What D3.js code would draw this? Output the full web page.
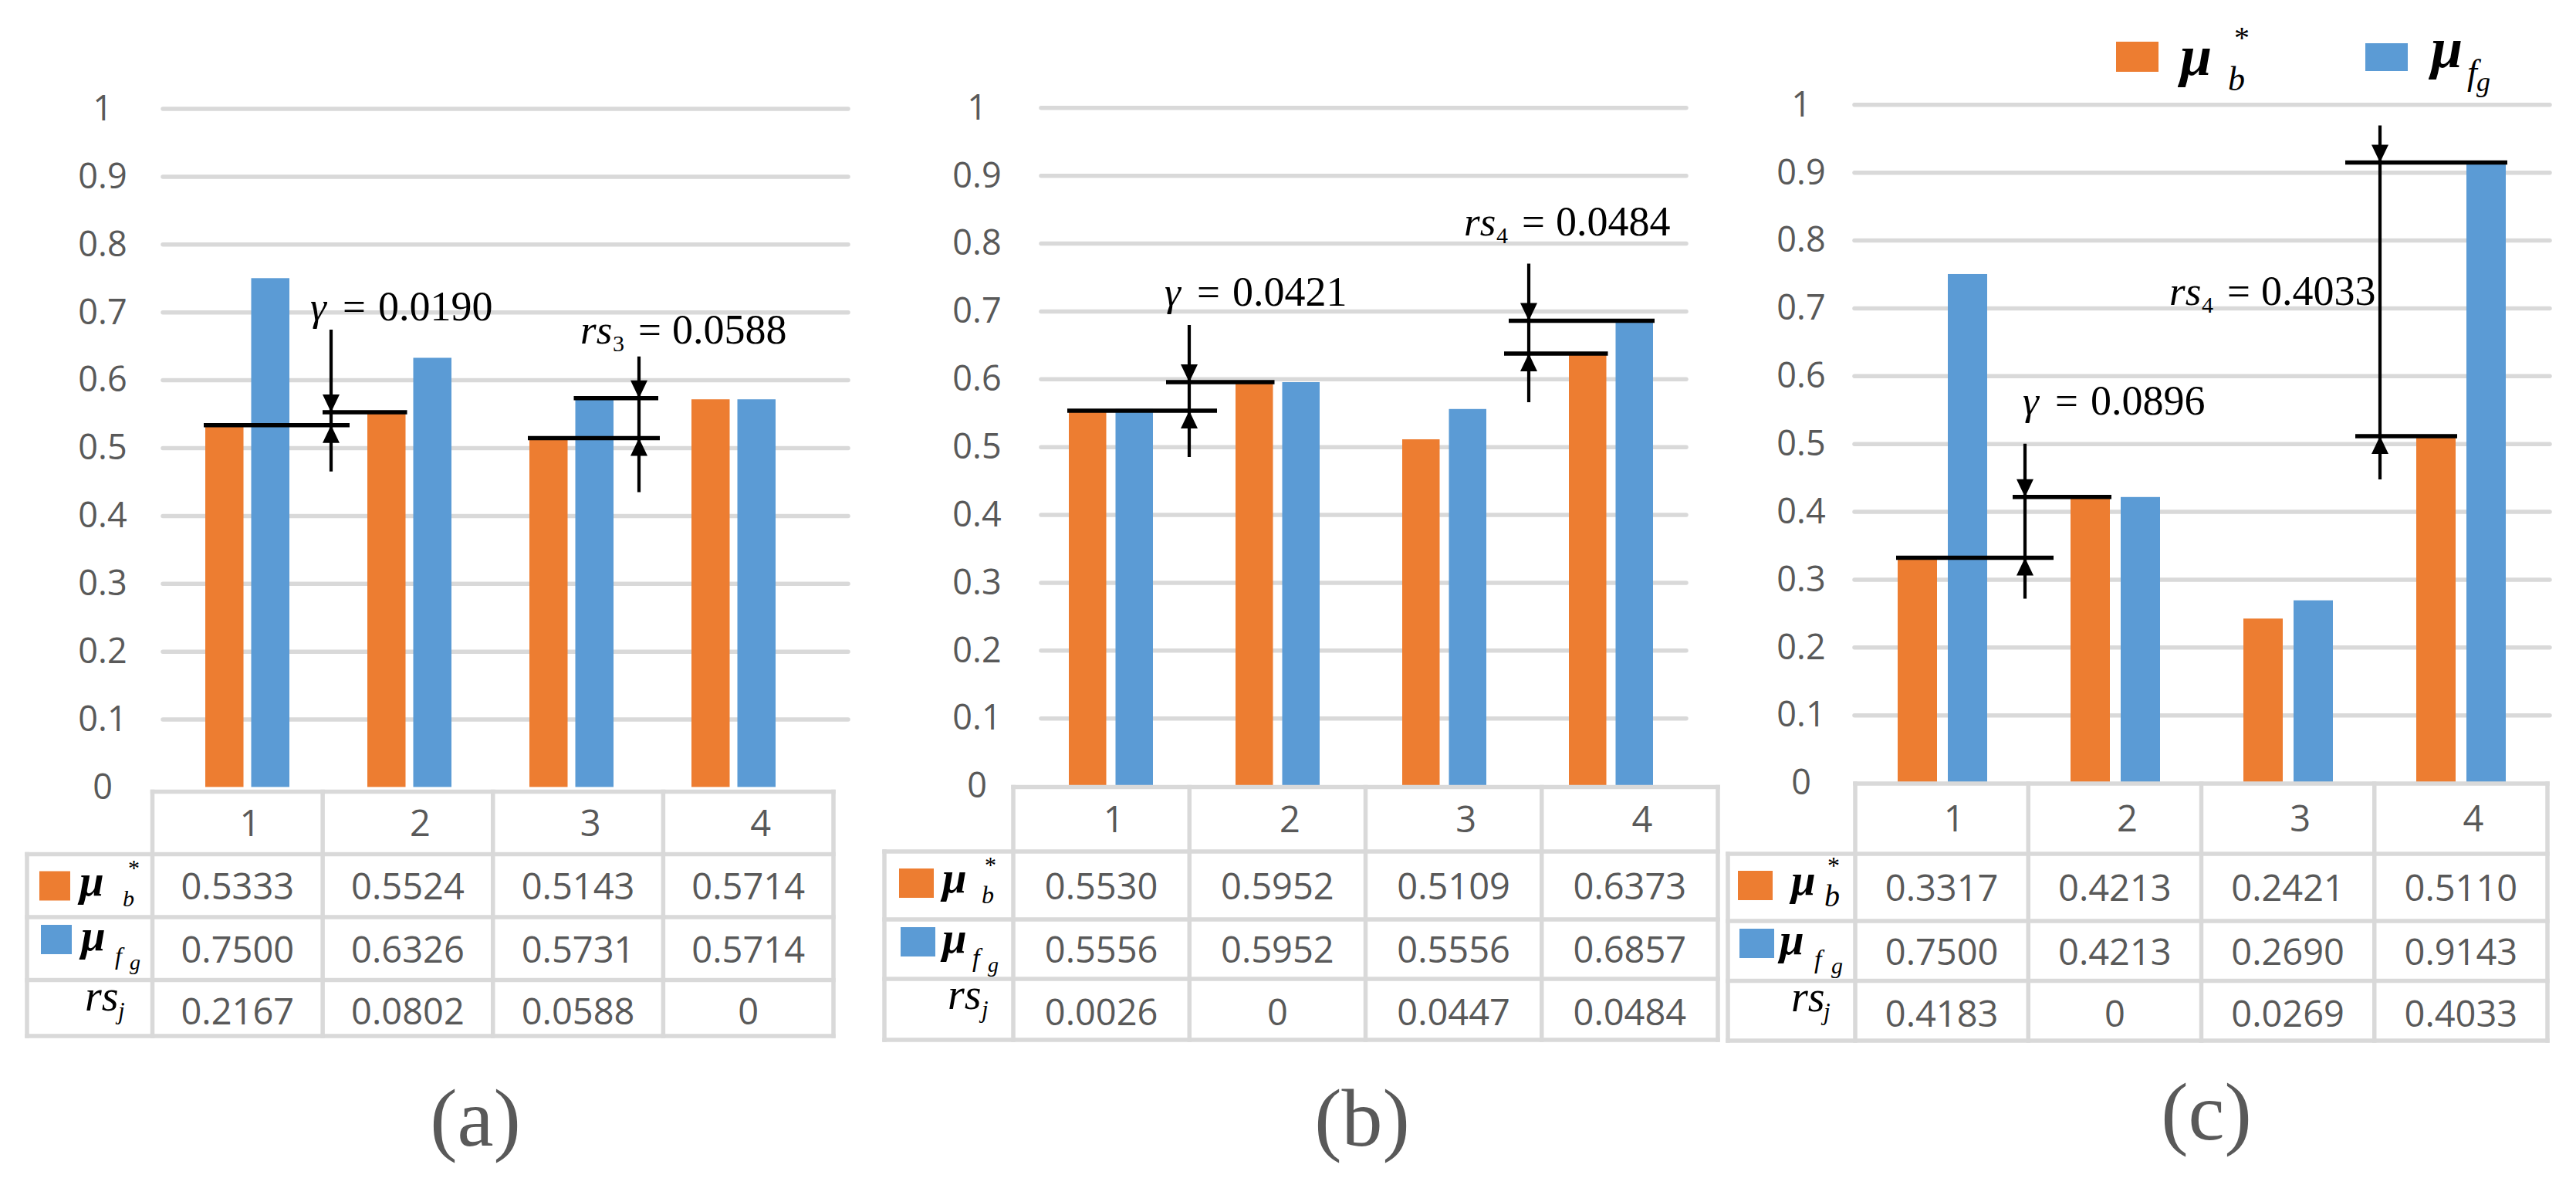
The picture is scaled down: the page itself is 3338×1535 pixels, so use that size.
<!DOCTYPE html>
<html>
<head>
<meta charset="utf-8">
<script src="https://cdn.jsdelivr.net/npm/d3@7"></script>
<style>
  html, body { margin: 0; padding: 0; background: #ffffff; }
  svg { display: block; }
</style>
</head>
<body>
<svg id="chart" width="3338" height="1535"></svg>
<script>
// ---------------- DATA ----------------
const categories = ['1', '2', '3', '4'];
const yTickValues = [0, 0.1, 0.2, 0.3, 0.4, 0.5, 0.6, 0.7, 0.8, 0.9, 1];

const muB_a  = [0.5333, 0.5524, 0.5143, 0.5714];
const muFg_a = [0.7500, 0.6326, 0.5731, 0.5714];
const rs_a   = [0.2167, 0.0802, 0.0588, 0];

const muB_b  = [0.5530, 0.5952, 0.5109, 0.6373];
const muFg_b = [0.5556, 0.5952, 0.5556, 0.6857];
const rs_b   = [0.0026, 0, 0.0447, 0.0484];

const muB_c  = [0.3317, 0.4213, 0.2421, 0.5110];
const muFg_c = [0.7500, 0.4213, 0.2690, 0.9143];
const rs_c   = [0.4183, 0, 0.0269, 0.4033];

const captions = ['(a)', '(b)', '(c)'];
const seriesKeys = ['muB', 'muFg'];

// annotation texts (panel, symbol, subscript, value, upper bar, lower bar)
const annoPanel  = [0, 0, 1, 1, 2, 2];
const annoSymbol = ['γ', 'rs', 'γ', 'rs', 'γ', 'rs'];
const annoSub    = ['', '3', '', '4', '', '4'];
const annoValue  = ['0.0190', '0.0588', '0.0421', '0.0484', '0.0896', '0.4033'];
const annoUpper  = [['muB', 1], ['muFg', 2], ['muB', 1], ['muFg', 3], ['muB', 1], ['muFg', 3]];
const annoLower  = [['muB', 0], ['muB', 2], ['muB', 0], ['muB', 3], ['muB', 0], ['muB', 3]];

// ---------------- STYLE / LAYOUT ----------------
const colors = { muB: '#ED7D31', muFg: '#5B9BD5' };
const GRID = '#D9D9D9';
const TXT = '#595959';
const SANS = '"Open Sans"';
const SERIF = '"Liberation Serif"';

const panelData = [
  { muB: muB_a, muFg: muFg_a, rs: rs_a },
  { muB: muB_b, muFg: muFg_b, rs: rs_b },
  { muB: muB_c, muFg: muFg_c, rs: rs_c }
];

const layouts = [
  { y0: 1019.4, y1: 140.6, gridX: [211, 1099], tickX: 133, firstBar: 266, period: 210, groupW: 109, barGap: 10,
    table: { left: 35, dataLeft: 197.5, right: 1080, rows: [1025.5, 1106.5, 1188, 1269.5, 1342] },
    capX: 616, capY: 1484 },
  { y0: 1018, y1: 139.3, gridX: [1349, 2185], tickX: 1266, firstBar: 1385, period: 216, groupW: 109, barGap: 12,
    table: { left: 1146, dataLeft: 1313, right: 2226, rows: [1019.5, 1103, 1191, 1268, 1347] },
    capX: 1765, capY: 1484 },
  { y0: 1014, y1: 135.3, gridX: [2403, 3304], tickX: 2334, firstBar: 2459, period: 224, groupW: 116, barGap: 14,
    table: { left: 2239, dataLeft: 2404, right: 3301, rows: [1015, 1106, 1193, 1270.5, 1348] },
    capX: 2859, capY: 1476 }
];

// row-label placement inside each table (offsets from table left / row top)
const rowLabelLayout = [
  { sqX: 16, sqW: 40, muBX: 68, muB: { mu: 57, bx: 56, by: 14, bs: 30, sx: 63, sy: -26, ss: 30 },
    muFgX: 70, muFg: { mu: 57, fx: 44, fy: 18, fs: 32, gx: 63, gy: 25, gs: 28 }, rsX: 75, jx: 43 },
  { sqX: 19, sqW: 45, muBX: 75, muB: { mu: 57, bx: 51, by: 14, bs: 32, sx: 55, sy: -26, ss: 30 },
    muFgX: 75, muFg: { mu: 57, fx: 39, fy: 18, fs: 34, gx: 59, gy: 25, gs: 28 }, rsX: 82, jx: 44 },
  { sqX: 13, sqW: 45, muBX: 82, muB: { mu: 57, bx: 43, by: 15, bs: 40, sx: 47, sy: -27, ss: 32 },
    muFgX: 67, muFg: { mu: 57, fx: 45, fy: 18, fs: 34, gx: 67, gy: 25, gs: 30 }, rsX: 82, jx: 42 }
];

const annoLayout = [
  { ref: 'right', cat: 0, dx: 54,  upExt: 11, loExt: 24, topLen: 107, botLen: 60, tdx: -27,  tdy: -12 },
  { ref: 'right', cat: 2, dx: 33,  upExt: 25, loExt: 27, topLen: 54,  botLen: 70, tdx: -76,  tdy: -17 },
  { ref: 'right', cat: 0, dx: 47,  upExt: 30, loExt: 36, topLen: 74,  botLen: 60, tdx: -32,  tdy: -25 },
  { ref: 'left',  cat: 3, dx: -52, upExt: 26, loExt: 32, topLen: 74,  botLen: 63, tdx: -84,  tdy: -36 },
  { ref: 'right', cat: 0, dx: 49,  upExt: 16, loExt: 37, topLen: 69,  botLen: 53, tdx: -3,   tdy: -38 },
  { ref: 'left',  cat: 3, dx: -47, upExt: 45, loExt: 32, topLen: 48,  botLen: 56, tdx: -273, tdy: 232 }
];

const fmtTick = d3.format('.1~f');
const fmtVal = v => (v === 0 ? '0' : v.toFixed(4));

const svg = d3.select('#chart');
svg.append('rect').attr('width', 3338).attr('height', 1535).attr('fill', '#fff');

// math label helpers
function piece(g, txt, x, y, size, opts = {}) {
  return g.append('text').attr('x', x).attr('y', y)
    .attr('font-family', SERIF)
    .attr('font-size', size)
    .attr('font-style', opts.italic === false ? 'normal' : 'italic')
    .attr('font-weight', opts.bold ? 'bold' : 'normal')
    .attr('fill', opts.fill || '#000').text(txt);
}
function muB(g, x, bl, P) {
  piece(g, 'μ', x, bl, P.mu, { bold: true });
  piece(g, 'b', x + P.bx, bl + P.by, P.bs);
  piece(g, '*', x + P.sx, bl + P.sy, P.ss, { italic: false });
}
function muFg(g, x, bl, P) {
  piece(g, 'μ', x, bl, P.mu, { bold: true });
  piece(g, 'f', x + P.fx, bl + P.fy, P.fs);
  piece(g, 'g', x + P.gx, bl + P.gy, P.gs);
}
function rsJ(g, x, bl, jx) {
  piece(g, 'rs', x, bl, 56);
  piece(g, 'j', x + jx, bl + 11, 31);
}

const ctx = [];

panelData.forEach((p, i) => {
  const L = layouts[i];
  const R = rowLabelLayout[i];
  const g = svg.append('g').attr('class', 'panel');

  const y = d3.scaleLinear().domain([0, 1]).range([L.y0, L.y1]);
  const pi = 1 - L.groupW / L.period;
  const r0 = L.firstBar - (pi / 2) * L.period;
  const x0 = d3.scaleBand().domain(categories)
    .range([r0, r0 + categories.length * L.period])
    .paddingInner(pi).paddingOuter(pi / 2);
  const x1 = d3.scaleBand().domain(seriesKeys)
    .range([0, x0.bandwidth()])
    .paddingInner(2 * L.barGap / (L.groupW + L.barGap));
  ctx.push({ y, x0, x1, p });

  // y axis with gridlines
  const axis = d3.axisLeft(y).tickValues(yTickValues).tickFormat(fmtTick)
    .tickSize(-(L.gridX[1] - L.gridX[0])).tickPadding(0);
  const ag = g.append('g').attr('transform', `translate(${L.gridX[0]},0)`).call(axis);
  ag.select('.domain').remove();
  ag.attr('font-family', SANS).attr('font-size', 45);
  ag.selectAll('.tick line')
    .attr('stroke', GRID).attr('stroke-width', 5.5).attr('stroke-linecap', 'round')
    .attr('display', d => (d === 0 ? 'none' : null));
  ag.selectAll('.tick text')
    .attr('x', L.tickX - L.gridX[0]).attr('text-anchor', 'middle')
    .attr('font-family', SANS).attr('font-size', 45)
    .attr('dy', '0.33em').attr('fill', TXT);

  // bars
  const rows = categories.map((c, j) => ({ cat: c, muB: p.muB[j], muFg: p.muFg[j] }));
  g.append('g').selectAll('g').data(rows).join('g')
    .attr('transform', d => `translate(${x0(d.cat)},0)`)
    .selectAll('rect').data(d => seriesKeys.map(k => ({ k, v: d[k] }))).join('rect')
    .attr('x', d => x1(d.k)).attr('y', d => y(d.v))
    .attr('width', x1.bandwidth()).attr('height', d => y(0) - y(d.v))
    .attr('fill', d => colors[d.k]);

  // data table
  const T = L.table;
  const xt = d3.scaleBand().domain(categories).range([T.dataLeft, T.right]);
  const tg = g.append('g');
  const hLines = [{ y: T.rows[0], a: T.dataLeft, b: T.right }]
    .concat(T.rows.slice(1).map(r => ({ y: r, a: T.left, b: T.right })));
  tg.selectAll('line.h').data(hLines).join('line').attr('class', 'h')
    .attr('x1', d => d.a).attr('x2', d => d.b).attr('y1', d => d.y).attr('y2', d => d.y)
    .attr('stroke', GRID).attr('stroke-width', 5.5).attr('stroke-linecap', 'square');
  const vLines = [{ x: T.left, a: T.rows[1] }, { x: T.dataLeft, a: T.rows[0] }]
    .concat(categories.map(c => ({ x: xt(c) + xt.bandwidth(), a: T.rows[0] })));
  tg.selectAll('line.v').data(vLines).join('line').attr('class', 'v')
    .attr('x1', d => d.x).attr('x2', d => d.x).attr('y1', d => d.a).attr('y2', T.rows[4])
    .attr('stroke', GRID).attr('stroke-width', 5.5).attr('stroke-linecap', 'square');

  // header
  tg.selectAll('text.hdr').data(categories).join('text').attr('class', 'hdr')
    .attr('x', c => xt(c) + xt.bandwidth() / 2 + 16)
    .attr('y', (T.rows[0] + T.rows[1]) / 2).attr('dy', '0.36em')
    .attr('text-anchor', 'middle').attr('font-family', SANS).attr('font-size', 47)
    .attr('fill', TXT).text(c => c);

  // values
  const valRows = [p.muB, p.muFg, p.rs];
  valRows.forEach((vals, r) => {
    const cy = (T.rows[r + 1] + T.rows[r + 2]) / 2 + (r === 2 ? 4 : 1);
    tg.append('g').selectAll('text').data(vals).join('text')
      .attr('x', (v, j) => xt(categories[j]) + xt.bandwidth() / 2)
      .attr('y', cy).attr('dy', '0.36em')
      .attr('text-anchor', 'middle').attr('font-family', SANS).attr('font-size', 47)
      .attr('fill', TXT).text(fmtVal);
  });

  // row labels
  const lx = T.left;
  const rT = T.rows;
  tg.append('rect').attr('x', lx + R.sqX).attr('y', rT[1] + 22).attr('width', R.sqW).attr('height', 38)
    .attr('fill', colors.muB);
  muB(tg, lx + R.muBX, rT[1] + 53, R.muB);
  tg.append('rect').attr('x', lx + R.sqX + 2).attr('y', rT[2] + 10).attr('width', R.sqW).attr('height', 38)
    .attr('fill', colors.muFg);
  muFg(tg, lx + R.muFgX, rT[2] + 43, R.muFg);
  rsJ(tg, lx + R.rsX, rT[3] + 39, R.jx);

  // caption
  piece(g, captions[i], L.capX, L.capY, 106, { italic: false, fill: TXT }).attr('text-anchor', 'middle');
});

// annotations
annoPanel.forEach((pIdx, k) => {
  const A = annoLayout[k];
  const C = ctx[pIdx];
  const g = svg.append('g').attr('class', 'anno');
  const bw = C.x1.bandwidth();
  const barLeft = (s, j) => C.x0(categories[j]) + C.x1(s);
  const ref = A.ref === 'right'
    ? C.x0(categories[A.cat]) + C.x0.bandwidth()
    : C.x0(categories[A.cat]);
  const ax = ref + A.dx;

  const [us, uj] = annoUpper[k];
  const [ls, lj] = annoLower[k];
  const yU = C.y(C.p[us][uj]);
  const yL = C.y(C.p[ls][lj]);

  const span = (s, j, ext) => {
    const bl = barLeft(s, j);
    return (bl + bw / 2 < ax) ? [bl - 2, ax + ext] : [ax - ext, bl + bw + 2];
  };
  const su = span(us, uj, A.upExt);
  const sl = span(ls, lj, A.loExt);
  const hl = [{ y: yU, s: su }, { y: yL, s: sl }];
  g.selectAll('line.h').data(hl).join('line').attr('class', 'h')
    .attr('x1', d => d.s[0]).attr('x2', d => d.s[1]).attr('y1', d => d.y).attr('y2', d => d.y)
    .attr('stroke', '#000').attr('stroke-width', 5.5);

  const top = yU - A.topLen, bottom = yL + A.botLen;
  g.append('line').attr('x1', ax).attr('x2', ax).attr('y1', top).attr('y2', bottom)
    .attr('stroke', '#000').attr('stroke-width', 4.2);
  const ah = 23, aw = 11;
  g.append('path').attr('d', `M${ax},${yU} L${ax - aw},${yU - ah} L${ax + aw},${yU - ah} Z`).attr('fill', '#000');
  g.append('path').attr('d', `M${ax},${yL} L${ax - aw},${yL + ah} L${ax + aw},${yL + ah} Z`).attr('fill', '#000');

  // label
  const tx = ax + A.tdx, ty = top + A.tdy;
  const isG = annoSymbol[k] === 'γ';
  piece(g, annoSymbol[k], tx, ty, 53);
  if (annoSub[k]) piece(g, annoSub[k], tx + 42, ty + 10, 30, { italic: false });
  piece(g, '=', tx + (isG ? 42 : 75), ty, 53, { italic: false });
  piece(g, annoValue[k], tx + (isG ? 88 : 119), ty, 54, { italic: false });
});

// legend (top right)
const lg = svg.append('g').attr('class', 'legend');
lg.append('rect').attr('x', 2742).attr('y', 54).attr('width', 55).attr('height', 39).attr('fill', colors.muB);
muB(lg, 2825, 97, { mu: 74, bx: 62, by: 20, bs: 44, sx: 70, sy: -35, ss: 40 });
lg.append('rect').attr('x', 3065).attr('y', 56).attr('width', 55).attr('height', 36).attr('fill', colors.muFg);
muFg(lg, 3150, 87, { mu: 74, fx: 47, fy: 22, fs: 46, gx: 59, gy: 31, gs: 36 });
</script>
</body>
</html>
